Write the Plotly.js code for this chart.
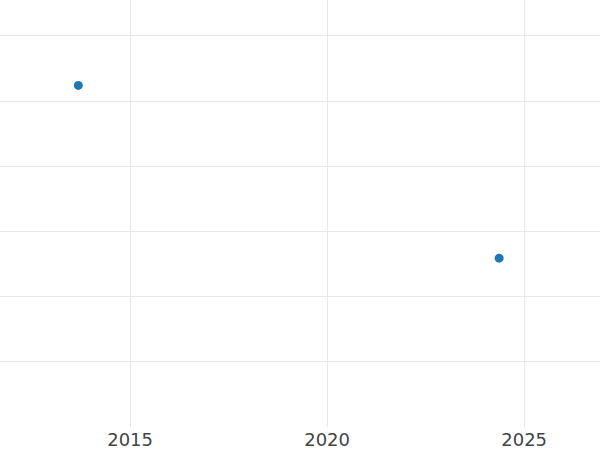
<!DOCTYPE html>
<html>
<head>
<meta charset="utf-8">
<script src="https://cdn.plot.ly/plotly-3.0.1.min.js"></script>
<style>html,body{margin:0;padding:0;background:#fff;}#chart{width:600px;height:450px;}</style>
</head>
<body>
<div id="chart"></div>
<script>
var dates = ["2013-09-08", "2024-05-14"];
var values = [4.24, 1.59];
var xTickVals = ["2015-01-01", "2020-01-01", "2025-01-01"];
var xTickText = ["2015", "2020", "2025"];

var trace = {
  type: "scatter",
  mode: "markers",
  x: dates,
  y: values,
  marker: {color: "#1f77b4", size: 9},
  showlegend: false,
  hoverinfo: "x+y"
};

var layout = {
  width: 600,
  height: 450,
  margin: {l: 0, r: 0, t: 0, b: 23, pad: 0},
  paper_bgcolor: "#ffffff",
  plot_bgcolor: "#ffffff",
  font: {family: "DejaVu Sans", size: 18, color: "#444444"},
  xaxis: {
    type: "date",
    range: ["2011-09-13", "2026-12-05"],
    tickvals: xTickVals,
    ticktext: xTickText,
    tickfont: {family: "DejaVu Sans", size: 18, color: "#444444"},
    showgrid: true,
    gridcolor: "#e8e8e8",
    gridwidth: 1,
    zeroline: false,
    showline: false,
    ticks: ""
  },
  yaxis: {
    range: [-1, 5.55],
    dtick: 1,
    tick0: 0,
    showticklabels: false,
    showgrid: true,
    gridcolor: "#e8e8e8",
    gridwidth: 1,
    zeroline: false,
    showline: false,
    ticks: ""
  }
};

Plotly.newPlot("chart", [trace], layout, {displayModeBar: false, staticPlot: true});
</script>
</body>
</html>
